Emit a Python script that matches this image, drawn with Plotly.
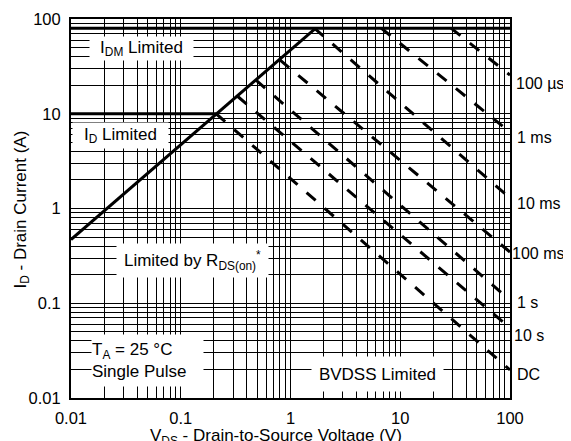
import plotly.graph_objects as go
import numpy as np

# ---- data ----
x_ticks = [0.01, 0.1, 1, 10, 100]
x_tick_labels = ["0.01", "0.1", "1", "10", "100"]
y_ticks = [0.01, 0.1, 1, 10, 100]
y_tick_labels = ["0.01", "0.1", "1", "10", "100"]

# Limit lines (V, A)
rds_v = [0.01, 1.7]
rds_i = [0.47, 80]
id_v = [0.01, 0.21]
id_i = [10, 10]
idm_v = [0.01, 100]
idm_i = [80, 80]

# Pulse-duration lines: start/end points (V, A)
pulse_names = ["100 µs", "1 ms", "10 ms", "100 ms", "1 s", "10 s", "DC"]
pulse_v_start = [29, 6.7, 1.65, 0.80, 0.485, 0.329, 0.21]
pulse_i_start = [80, 80, 80, 37, 22.6, 15.3, 10]
pulse_v_end = [100, 100, 100, 100, 100, 100, 100]
pulse_i_end = [25.6, 6.4, 1.29, 0.347, 0.108, 0.0548, 0.0198]

# Right-side label positions (A)
label_i = [21.1, 5.68, 1.14, 0.339, 0.103, 0.0462, 0.0175]
label_shift = [4, 5, 5, 0, 5, 2, 5]

FONT = "Liberation Sans, Arial, Helvetica, sans-serif"
FS = 17
TFS = 16.5
RFS = 16

# page offset of the figure (body margin)
OFF = 8

fig = go.Figure()

line_style = dict(color="black", width=3)
fig.add_trace(go.Scatter(x=rds_v, y=rds_i, mode="lines", line=line_style, showlegend=False))
fig.add_trace(go.Scatter(x=id_v, y=id_i, mode="lines", line=line_style, showlegend=False))
fig.add_trace(go.Scatter(x=idm_v, y=idm_i, mode="lines", line=line_style, showlegend=False))

for n, vs, is_, ve, ie in zip(pulse_names, pulse_v_start, pulse_i_start, pulse_v_end, pulse_i_end):
    fig.add_trace(go.Scatter(x=[vs, ve], y=[is_, ie], mode="lines", name=n,
                             line=dict(color="black", width=3, dash="12px,12px"),
                             showlegend=False))

minor_vals = [m * 10.0 ** d for d in range(-2, 2) for m in range(2, 10)]

axis_common = dict(
    type="log", range=[-2, 2], showgrid=True, gridcolor="black", gridwidth=1,
    minor=dict(tickmode="array", tickvals=minor_vals, showgrid=True,
               gridcolor="black", gridwidth=1, ticks=""),
    showline=True, linecolor="black", linewidth=2, mirror=True, ticks="",
    zeroline=False, automargin=False,
    tickfont=dict(family=FONT, size=TFS, color="black"),
)

fig.update_layout(
    width=571, height=441,
    margin=dict(l=71 - OFF, r=61 + OFF, t=19 - OFF, b=43 + OFF),
    paper_bgcolor="white", plot_bgcolor="white",
    font=dict(family=FONT, size=FS, color="black"),
    xaxis=dict(axis_common, tickvals=x_ticks, ticktext=x_tick_labels, ticklabelstandoff=4),
    yaxis=dict(axis_common, tickvals=y_ticks, ticktext=y_tick_labels, ticklabelstandoff=5),
)

def lx(px):
    return -2 + (px - 71) / 109.75

def ly(py):
    return 2 - (py - 19) / 94.75

boxes = [
    ("I<sub>DM</sub> Limited", 141.5, 48.5, 103, 23, "center"),
    ("I<sub>D</sub> Limited", 120.5, 135, 95, 25, "center"),
    ("Limited by R<sub>DS(on)</sub><sup>*</sup>", 192.5, 260.5, 151, 33, "center"),
    ("T<sub>A</sub> = 25 °C<br>Single Pulse", 147.5, 360.5, 111, 51, "left"),
    ("BVDSS Limited", 377.5, 374, 131, 34, "center"),
]
for txt, cx, cy, w, h, al in boxes:
    fig.add_annotation(x=lx(cx), y=ly(cy), xref="x", yref="y", text=txt,
                       showarrow=False, bgcolor="white", borderpad=0,
                       width=w, height=h, align=al, xanchor="center", yanchor="middle",
                       font=dict(family=FONT, size=FS, color="black"))

for n, li, sh in zip(pulse_names, label_i, label_shift):
    fig.add_annotation(x=1, xref="paper", y=np.log10(li), yref="y", text=n,
                       showarrow=False, xanchor="left", yanchor="middle", xshift=sh,
                       font=dict(family=FONT, size=RFS, color="black"))

fig.add_annotation(x=(276 - 71) / 439, y=(398 - 437) / 379, xref="paper", yref="paper",
                   xanchor="center", yanchor="middle",
                   text="V<sub>DS</sub> - Drain-to-Source Voltage (V)", showarrow=False,
                   font=dict(family=FONT, size=FS, color="black"))
fig.add_annotation(x=(22 - 71) / 439, y=(398 - 209.5) / 379, xref="paper", yref="paper",
                   xanchor="center", yanchor="middle",
                   text="I<sub>D</sub> - Drain Current (A)", showarrow=False, textangle=-90,
                   font=dict(family=FONT, size=FS, color="black"))

fig.write_html("out.html")
